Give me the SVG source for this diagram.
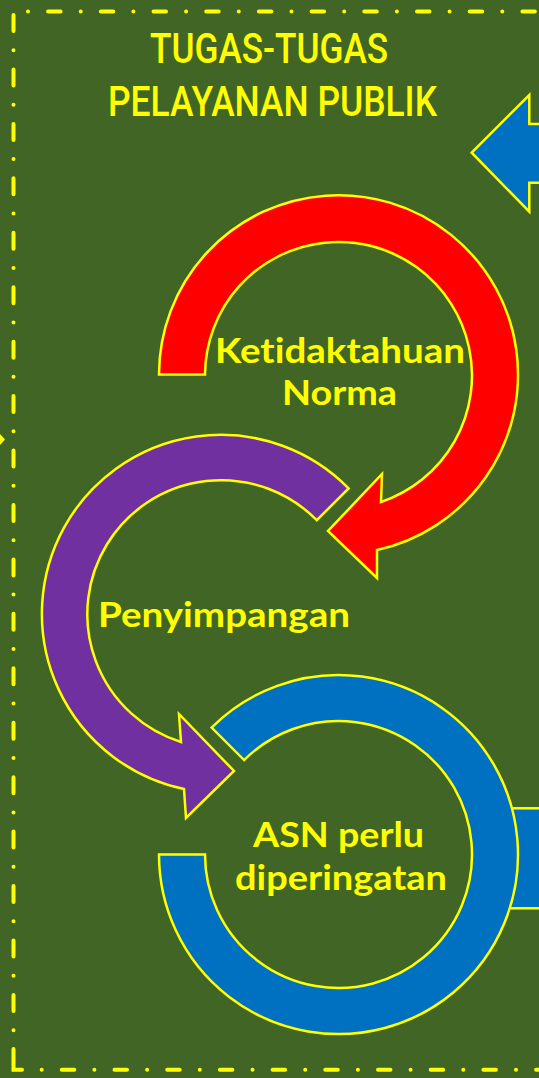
<svg xmlns="http://www.w3.org/2000/svg" width="539" height="1078" viewBox="0 0 539 1078">
<style>
.bd{fill:none;stroke:#FFFF00;stroke-width:4;stroke-linecap:round}
.h{stroke-dasharray:0 20.1 12.5 20.1}
.v{stroke-dasharray:16 19.22 0 19.22}
.sh{stroke:#FFFF00;stroke-width:2.5;stroke-linejoin:miter}
.lbl{font-family:Lato,"Open Sans","Liberation Sans",sans-serif;font-weight:bold;font-size:35px;fill:#FFFF00;text-anchor:middle;font-variant-ligatures:none}
.ttl{font-family:Roboto,"Liberation Sans",Arial,sans-serif;font-weight:500;font-size:43px;fill:#FFFF00;text-anchor:middle}
</style>
<rect x="0" y="0" width="539" height="1078" fill="#416524"/>
<g id="border">
<path class="bd h" d="M28,11.5 H560"/>
<path class="bd h" d="M41.7,1069.7 H560"/>
<path class="bd v" d="M13.5,15 V1040"/>
<path class="bd" d="M13.5,1049 V1069.7 H22"/>
<polygon points="0,434 5,439.5 0,445" fill="#FFFF00"/>
</g>
<g id="title">
<text class="ttl" x="269" y="63" textLength="238" lengthAdjust="spacingAndGlyphs">TUGAS-TUGAS</text>
<text class="ttl" x="272.5" y="116" textLength="329" lengthAdjust="spacingAndGlyphs">PELAYANAN PUBLIK</text>
</g>
<g id="connectors">
<polygon id="arrow-top" class="sh" fill="#0070C0" points="471.7,152.7 529.3,95 529.3,124 560,124 560,182.7 529.3,182.7 529.3,211.7"/>
<rect id="bar-right" class="sh" fill="#0070C0" x="490" y="808.3" width="70" height="100"/>
</g>
<g id="node-red">
<path class="sh" fill="#FF0000" d="M159,374.5 A179.5,179.5 0 1 1 377,550 L377,578 L328,531 L382,474 L381,502 A133.5,133.5 0 1 0 205,374.5 Z"/>
<text class="lbl" x="340" y="363" textLength="250" lengthAdjust="spacingAndGlyphs">Ketidaktahuan</text>
<text class="lbl" x="339.5" y="405" textLength="115" lengthAdjust="spacingAndGlyphs">Norma</text>
</g>
<g id="node-purple">
<path class="sh" fill="#7030A0" d="M348.6,488.4 A179,179 0 1 0 184,789 L186,818 L234,771 L179,714 L181,742 A134,134 0 1 1 316.8,520.2 Z"/>
<text class="lbl" x="224" y="627" textLength="252" lengthAdjust="spacingAndGlyphs">Penyimpangan</text>
</g>
<g id="node-blue">
<path class="sh" fill="#0070C0" d="M211.6,727.6 A179.5,179.5 0 1 1 159,854.5 L205,854.5 A133.5,133.5 0 1 0 244.1,760.1 Z"/>
<text class="lbl" x="338.5" y="847" textLength="171" lengthAdjust="spacingAndGlyphs">ASN perlu</text>
<text class="lbl" x="341" y="890" textLength="212" lengthAdjust="spacingAndGlyphs">diperingatan</text>
</g>
</svg>
